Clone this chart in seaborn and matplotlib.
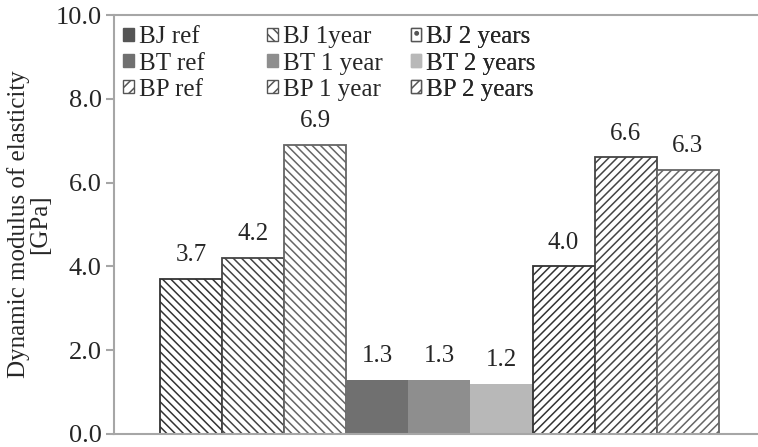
import numpy as np
import pandas as pd
import seaborn as sns
import matplotlib.pyplot as plt
from matplotlib.patches import Patch

# data
series = ["BJ ref", "BJ 1year", "BJ 2 years",
          "BT ref", "BT 1 year", "BT 2 years",
          "BP ref", "BP 1 year", "BP 2 years"]
values = [3.7, 4.2, 6.9, 1.3, 1.3, 1.2, 4.0, 6.6, 6.3]
value_labels = ["3.7", "4.2", "6.9", "1.3", "1.3", "1.2", "4.0", "6.6", "6.3"]
yticks = [0, 2, 4, 6, 8, 10]

sns.set_style("white")
plt.rcParams['font.family'] = ['Liberation Serif', 'DejaVu Serif']
plt.rcParams['hatch.linewidth'] = 1.1

df = pd.DataFrame({"series": series, "value": values})

fig = plt.figure(figsize=(7.58, 4.47), dpi=100)
ax = fig.add_axes([0.1504, 0.0291, 0.8496, 0.9373])

# face / hatch styles per bar
faces = ["white", "white", "white", "#707070", "#8e8e8e", "#b8b8b8", "white", "white", "white"]
hatches = ["\\\\\\\\", "\\\\\\\\", "\\\\\\\\", "", "", "", "////", "////", "////"]
edges = ["#333333", "#444444", "#666666", "#707070", "#8e8e8e", "#b8b8b8", "#333333", "#444444", "#666666"]

sns.barplot(data=df, x="series", y="value", hue="series", order=series,
            palette=dict(zip(series, faces)), width=1.0, legend=False,
            saturation=1, ax=ax)

for p, h, ec in zip(ax.patches, hatches, edges):
    p.set_hatch(h)
    p.set_edgecolor(ec)
    p.set_linewidth(1.3 if h else 0)

for i, (v, t) in enumerate(zip(values, value_labels)):
    ax.text(i, v + 0.3, t, ha="center", va="bottom", fontsize=18)

ax.set_xlim(-1.24, 9.13)
ax.set_ylim(0, 10)
ax.set_yticks(yticks)
ax.set_yticklabels([f"{t:.1f}" for t in yticks], fontsize=19)
ax.set_xticks([])
ax.set_xlabel("")
ax.set_ylabel("Dynamic modulus of elasticity\n[GPa]", fontsize=18, labelpad=3,
              linespacing=0.95)
ax.axhline(10, color="#a6a6a6", lw=1.5, clip_on=False)

sns.despine(ax=ax, top=True, right=True)
for s in ["left", "bottom"]:
    ax.spines[s].set_color("#a6a6a6")
    ax.spines[s].set_linewidth(1.5)
ax.tick_params(axis="y", direction="out", length=6, width=1.5, color="#a6a6a6", left=True, pad=3)

# legend as drawn in the original, one legend per column (fixed column widths)
leg_style = {
    "BJ ref": dict(facecolor="#555555", edgecolor="#555555"),
    "BJ 1year": dict(facecolor="white", edgecolor="#555555", hatch="\\\\\\"),
    "BJ 2 years": dict(facecolor="white", edgecolor="#555555", hatch="."),
    "BT ref": dict(facecolor="#707070", edgecolor="#707070"),
    "BT 1 year": dict(facecolor="#8e8e8e", edgecolor="#8e8e8e"),
    "BT 2 years": dict(facecolor="#b8b8b8", edgecolor="#b8b8b8"),
    "BP ref": dict(facecolor="white", edgecolor="#555555", hatch="///"),
    "BP 1 year": dict(facecolor="white", edgecolor="#555555", hatch="///"),
    "BP 2 years": dict(facecolor="white", edgecolor="#555555", hatch="///"),
}
columns = [[0, 3, 6], [1, 4, 7], [2, 5, 8]]
col_x = [0.014, 0.238, 0.461]
for cx, col in zip(col_x, columns):
    handles = [Patch(label=series[k], linewidth=1, **leg_style[series[k]]) for k in col]
    leg = ax.legend(handles=handles, loc="upper left", bbox_to_anchor=(cx, 0.973),
                    frameon=False, fontsize=18, handlelength=0.42, handleheight=0.42,
                    handletextpad=0.2, labelspacing=0.17, borderaxespad=0.0,
                    borderpad=0.0)
    ax.add_artist(leg)

fig.savefig("out.png", dpi=100)
